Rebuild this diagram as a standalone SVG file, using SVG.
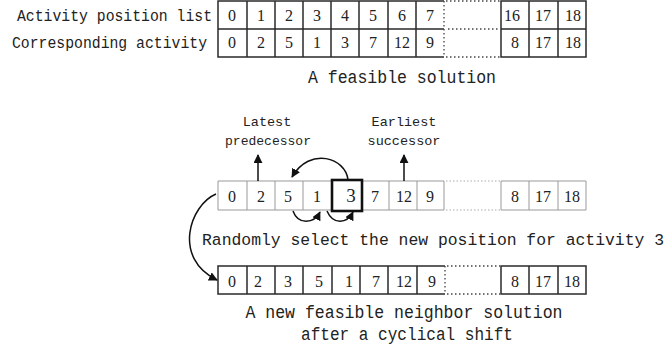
<svg xmlns="http://www.w3.org/2000/svg" width="671" height="353" viewBox="0 0 671 353">
<defs>
<style>
.lbl{font-family:"Liberation Mono","DejaVu Sans Mono",monospace;fill:#222;}
.big{font-size:17.5px;}
.mid{font-size:16px;}
.sm{font-size:13.5px;}
.num{font-family:"Liberation Serif","DejaVu Serif",serif;font-size:16px;fill:#222;text-anchor:middle;}
.dark{stroke:#2a2a2a;stroke-width:1.5;fill:none;}
.grey{stroke:#999;stroke-width:1;fill:none;}
.dot{stroke:#444;stroke-width:1.3;stroke-dasharray:1.5 2.5;fill:none;}
.dotg{stroke:#aaa;stroke-width:1;stroke-dasharray:1.5 2;fill:none;}
.conn{stroke:#111;stroke-width:1.5;fill:none;}
</style>
<marker id="ah" viewBox="0 0 10 10" refX="9" refY="5" markerWidth="9" markerHeight="9" markerUnits="userSpaceOnUse" orient="auto">
<path d="M0,0 L10,5 L0,10 z" fill="#111"/>
</marker>
</defs>
<rect width="671" height="353" fill="#fff"/>

<g id="table-feasible">
<text class="lbl mid" x="212" y="21" text-anchor="end" textLength="195" lengthAdjust="spacingAndGlyphs">Activity position list</text>
<text class="lbl mid" x="207" y="48" text-anchor="end" textLength="195" lengthAdjust="spacingAndGlyphs">Corresponding activity</text>
<path class="dark" d="M444,1 H218 V57 H444 M218,29 H444 M247,1 V57 M275,1 V57 M303,1 V57 M331,1 V57 M359,1 V57 M388,1 V57 M416,1 V57"/>
<path class="dot" d="M444,1 V57"/>
<path class="dot" d="M446,1 H500 M448,29 H500 M446,57 H500"/>
<path class="dark" d="M501,1 H586 V57 H501 Z M501,29 H586 M529,1 V57 M558,1 V57"/>
<g class="num">
<text x="232" y="21">0</text><text x="261" y="21">1</text><text x="289" y="21">2</text><text x="317" y="21">3</text><text x="345" y="21">4</text><text x="373" y="21">5</text><text x="402" y="21">6</text><text x="430" y="21">7</text>
<text x="512" y="21">16</text><text x="543" y="21">17</text><text x="573" y="21">18</text>
<text x="232" y="48">0</text><text x="261" y="48">2</text><text x="289" y="48">5</text><text x="317" y="48">1</text><text x="345" y="48">3</text><text x="373" y="48">7</text><text x="402" y="48">12</text><text x="430" y="48">9</text>
<text x="515" y="48">8</text><text x="543" y="48">17</text><text x="573" y="48">18</text>
</g>
<text class="lbl big" x="402" y="83" text-anchor="middle" textLength="188" lengthAdjust="spacingAndGlyphs">A feasible solution</text>
</g>

<g id="label-predecessor">
<text class="lbl sm" x="267" y="126" text-anchor="middle">Latest</text>
<text class="lbl sm" x="268" y="145" text-anchor="middle" textLength="86" lengthAdjust="spacingAndGlyphs">predecessor</text>
</g>
<g id="label-successor">
<text class="lbl sm" x="404" y="126" text-anchor="middle">Earliest</text>
<text class="lbl sm" x="404" y="145" text-anchor="middle">successor</text>
</g>

<g id="row-current">
<path class="grey" d="M444,181 H218 V210 H444 V181 M247,181 V210 M275,181 V210 M303,181 V210 M389,181 V210 M417,181 V210"/>
<path class="dotg" d="M446,181 H500 M446,210 H500"/>
<path class="grey" d="M501,181 H586 V210 H501 Z M529,181 V210 M558,181 V210"/>
<rect x="332" y="180" width="30" height="31" fill="#fff" stroke="#111" stroke-width="2.6"/>
<g class="num">
<text x="232" y="202">0</text><text x="261" y="202">2</text><text x="288" y="202">5</text><text x="317" y="202">1</text><text x="375" y="202">7</text><text x="404" y="202">12</text><text x="430" y="202">9</text>
<text x="515" y="202">8</text><text x="543" y="202">17</text><text x="572" y="202">18</text>
</g>
<text class="num" x="351" y="202" style="font-size:19px">3</text>
</g>

<text class="lbl" style="font-size:16.3px" x="202" y="245" textLength="462" lengthAdjust="spacingAndGlyphs">Randomly select the new position for activity 3</text>

<g id="row-neighbor">
<path class="dark" d="M445,266 H218 V294 H445 M247,266 V294 M275,266 V294 M303,266 V294 M332,266 V294 M360,266 V294 M388,266 V294 M417,266 V294"/>
<path class="dot" d="M445,266 V294"/>
<path class="dot" d="M447,266 H500 M447,294 H500"/>
<path class="dark" d="M501,266 H586 V294 H501 Z M529,266 V294 M558,266 V294"/>
<g class="num">
<text x="232" y="287">0</text><text x="258" y="287">2</text><text x="288" y="287">3</text><text x="319" y="287">5</text><text x="349" y="287">1</text><text x="376" y="287">7</text><text x="404" y="287">12</text><text x="432" y="287">9</text>
<text x="515" y="287">8</text><text x="543" y="287">17</text><text x="572" y="287">18</text>
</g>
<text class="lbl big" x="404" y="318" text-anchor="middle" textLength="317" lengthAdjust="spacingAndGlyphs">A new feasible neighbor solution</text>
<text class="lbl big" x="407" y="340" text-anchor="middle" textLength="212" lengthAdjust="spacingAndGlyphs">after a cyclical shift</text>
</g>

<g id="connectors">
<path class="conn" d="M258,181 V155" marker-end="url(#ah)"/>
<path class="conn" d="M404,181 V155" marker-end="url(#ah)"/>
<path class="conn" d="M348,180 C346,158 310,146 292,177" marker-end="url(#ah)"/>
<path class="conn" d="M293,211 C298,225 314,224 320,212" marker-end="url(#ah)"/>
<path class="conn" d="M327,211 C333,225 347,224 353,212" marker-end="url(#ah)"/>
<path class="conn" d="M216,194 C190,205 172,258 217,280" marker-end="url(#ah)"/>
</g>
</svg>
